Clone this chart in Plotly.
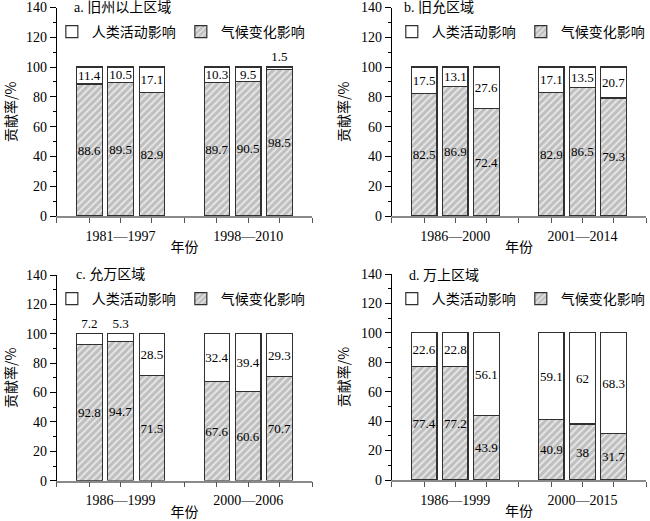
import plotly.graph_objects as go

# ---------------- data ----------------
series_names = ['人类活动影响', '气候变化影响']

title_a = 'a. 旧州以上区域'
periods_a = ['1981—1997', '1998—2010']
human_a = [11.4, 10.5, 17.1, 10.3, 9.5, 1.5]
climate_a = [88.6, 89.5, 82.9, 89.7, 90.5, 98.5]

title_b = 'b. 旧允区域'
periods_b = ['1986—2000', '2001—2014']
human_b = [17.5, 13.1, 27.6, 17.1, 13.5, 20.7]
climate_b = [82.5, 86.9, 72.4, 82.9, 86.5, 79.3]

title_c = 'c. 允万区域'
periods_c = ['1986—1999', '2000—2006']
human_c = [7.2, 5.3, 28.5, 32.4, 39.4, 29.3]
climate_c = [92.8, 94.7, 71.5, 67.6, 60.6, 70.7]

title_d = 'd. 万上区域'
periods_d = ['1986—1999', '2000—2015']
human_d = [22.6, 22.8, 56.1, 59.1, 62, 68.3]
climate_d = [77.4, 77.2, 43.9, 40.9, 38, 31.7]

y_ticks = [0, 20, 40, 60, 80, 100, 120, 140]
x_title = '年份'
y_title = '贡献率/%'

# ---------------- style ----------------
W, H = 650, 521
SERIF = 'Liberation Serif, Noto Sans CJK SC'
CJK = 'Noto Sans CJK SC'
bar_offsets = [-0.245, 0.0, 0.245]
bar_width = 0.2
gray_bg = '#bfbfbf'
gray_fg = '#e9e9e9'
edge = '#303030'


def px(x):
    return x / W


def py(y):
    return 1 - y / H


panels = [
    (title_a, periods_a, human_a, climate_a),
    (title_b, periods_b, human_b, climate_b),
    (title_c, periods_c, human_c, climate_c),
    (title_d, periods_d, human_d, climate_d),
]

# pixel geometry of plot areas: (x_left, x_right, y_top, y_bottom)
boxes = [
    (57, 313, 7.5, 216),
    (393, 648, 7.5, 216),
    (57, 313, 275, 480.7),
    (393, 648, 274, 480),
]
title_pos = [(72, 8), (403, 8), (74, 274), (408, 275)]
legend_pos = [(65, 32), (406, 32), (65, 299), (406, 299)]

fig = go.Figure()
layout = dict(
    width=W, height=H,
    margin=dict(l=0, r=0, t=0, b=0),
    paper_bgcolor='white', plot_bgcolor='white',
    barmode='stack', showlegend=True,
    font=dict(family=SERIF, size=14, color='black'),
)
annotations = []


def fmt(v):
    return f'{v:g}'


for i, (title, periods, human, climate) in enumerate(panels):
    n = i + 1
    sfx = '' if n == 1 else str(n)
    xa, ya = 'x' + sfx, 'y' + sfx
    leg = 'legend' + sfx
    xs = [g + o for g in range(len(periods)) for o in bar_offsets]

    fig.add_trace(go.Bar(
        x=xs, y=climate, width=bar_width, xaxis=xa, yaxis=ya,
        name=series_names[1], legend=leg, legendrank=2,
        marker=dict(color=gray_bg, line=dict(color=edge, width=1.2),
                    pattern=dict(shape='/', fgcolor=gray_fg, bgcolor=gray_bg,
                                 size=5, solidity=0.35, fillmode='replace')),
        text=[fmt(v) for v in climate], textposition='inside',
        insidetextanchor='middle', textangle=0, constraintext='none',
        textfont=dict(family=SERIF, size=13, color='black'),
        hoverinfo='skip',
    ))
    fig.add_trace(go.Bar(
        x=xs, y=human, width=bar_width, xaxis=xa, yaxis=ya,
        name=series_names[0], legend=leg, legendrank=1,
        marker=dict(color='white', line=dict(color=edge, width=1.2)),
        text=[fmt(v) for v in human],
        textposition=['outside' if v < 8 else 'inside' for v in human],
        insidetextanchor='middle', textangle=0, constraintext='none',
        textfont=dict(family=SERIF, size=13, color='black'),
        cliponaxis=False, hoverinfo='skip',
    ))

    x0, x1, yt, yb = boxes[i]
    minor_vals = [-0.5, 0.5, 1.5] + [g + o for g in range(len(periods))
                                     for o in bar_offsets if o != 0]
    layout['xaxis' + sfx] = dict(
        domain=[px(x0), px(x1)], anchor=ya, range=[-0.5, 1.5],
        tickmode='array', tickvals=list(range(len(periods))), ticktext=periods,
        ticks='outside', ticklen=5, tickwidth=1, tickcolor='#555555',
        ticklabelstandoff=1,
        minor=dict(tickmode='array', tickvals=minor_vals, ticks='outside',
                   ticklen=5, tickwidth=1, tickcolor='#555555', showgrid=False),
        showline=True, linecolor='#8a8a8a', linewidth=1.5,
        showgrid=False, zeroline=False, automargin=False, fixedrange=True,
        tickfont=dict(family=SERIF, size=14, color='black'),
        title=dict(text=x_title, font=dict(family=CJK, size=14, color='black'),
                   standoff=0),
    )
    layout['yaxis' + sfx] = dict(
        domain=[py(yb), py(yt)], anchor=xa, range=[0, 140],
        tickmode='array', tickvals=y_ticks,
        ticks='outside', ticklen=6, tickwidth=1, tickcolor='black',
        minor=dict(dtick=10, ticks='outside', ticklen=3, tickwidth=1,
                   tickcolor='black', showgrid=False),
        showline=True, linecolor='black', linewidth=1,
        showgrid=False, zeroline=False, automargin=False, fixedrange=True,
        tickfont=dict(family=SERIF, size=14, color='black'),
        title=dict(text=y_title, font=dict(family=CJK, size=14, color='black'),
                   standoff=8),
    )
    lx, ly = legend_pos[i]
    layout[leg] = dict(
        orientation='h', x=px(lx - 13), y=py(ly),
        xanchor='left', yanchor='middle', bgcolor='rgba(0,0,0,0)',
        font=dict(family=CJK, size=14, color='black'),
        traceorder='normal',
        itemclick=False, itemdoubleclick=False, tracegroupgap=0,
    )
    tx, ty = title_pos[i]
    annotations.append(dict(
        text=title, x=px(tx), y=py(ty), xref='paper', yref='paper',
        xanchor='left', yanchor='middle', showarrow=False,
        font=dict(family=SERIF, size=14, color='black'),
    ))

layout['annotations'] = annotations
fig.update_layout(**layout)
# place the figure at the page's top-left corner (remove default body margin)
fig.write_html('out.html',
               config={'displayModeBar': False},
               post_script="document.body.style.margin='0';"
                           "document.body.style.overflow='hidden';")
